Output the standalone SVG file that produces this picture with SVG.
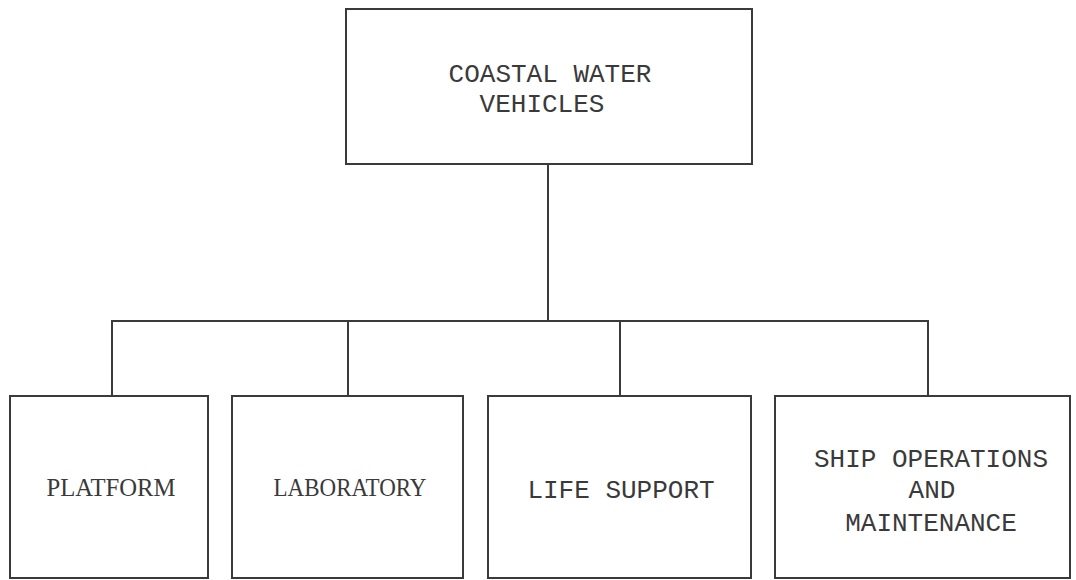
<svg xmlns="http://www.w3.org/2000/svg" width="1076" height="580" viewBox="0 0 1076 580">
  <style>
    .box { fill: #ffffff; stroke: #3a3a3a; stroke-width: 2; }
    .wire { fill: none; stroke: #3a3a3a; stroke-width: 2; }
    .mono { font-family: "Liberation Mono", "DejaVu Sans Mono", monospace; font-size: 26px; fill: #3a3a3a; text-anchor: middle; }
    .serif { font-family: "Liberation Serif", "DejaVu Serif", serif; font-size: 25px; fill: #3a3a3a; text-anchor: middle; }
  </style>
  <rect width="1076" height="580" fill="#ffffff"/>

  <g id="connectors">
    <path class="wire" d="M548,164 V321"/>
    <path class="wire" d="M112,396 V321 H928 V396"/>
    <path class="wire" d="M348,321 V396"/>
    <path class="wire" d="M620,321 V396"/>
  </g>

  <g id="coastal-water-vehicles">
    <rect class="box" x="346" y="9" width="406" height="155"/>
    <text class="mono" x="550" y="82">COASTAL WATER</text>
    <text class="mono" x="542" y="112">VEHICLES</text>
  </g>

  <g id="platform">
    <rect class="box" x="10" y="396" width="198" height="182"/>
    <text class="serif" x="111" y="496" textLength="129" lengthAdjust="spacingAndGlyphs">PLATFORM</text>
  </g>

  <g id="laboratory">
    <rect class="box" x="232" y="396" width="231" height="182"/>
    <text class="serif" x="350" y="496" textLength="153" lengthAdjust="spacingAndGlyphs">LABORATORY</text>
  </g>

  <g id="life-support">
    <rect class="box" x="488" y="396" width="263" height="182"/>
    <text class="mono" x="621" y="498">LIFE SUPPORT</text>
  </g>

  <g id="ship-operations">
    <rect class="box" x="775" y="396" width="295" height="182"/>
    <text class="mono" x="931" y="467">SHIP OPERATIONS</text>
    <text class="mono" x="932" y="498">AND</text>
    <text class="mono" x="931" y="531">MAINTENANCE</text>
  </g>
</svg>
